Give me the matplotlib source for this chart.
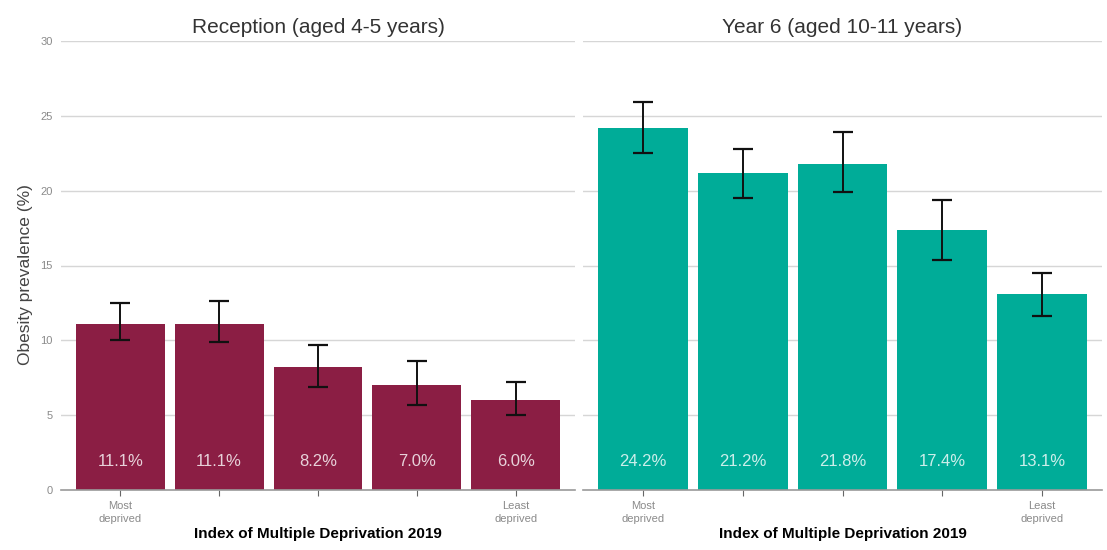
import matplotlib
matplotlib.use("Agg")
from matplotlib import pyplot as plt
import numpy as np

# data
groups = ["Reception (aged 4-5 years)", "Year 6 (aged 10-11 years)"]
quintiles = [1, 2, 3, 4, 5]
tick_labels = ["Most\ndeprived", "", "", "", "Least\ndeprived"]

reception = [11.1, 11.1, 8.2, 7.0, 6.0]
reception_lo = [10.0, 9.9, 6.9, 5.7, 5.0]
reception_hi = [12.5, 12.6, 9.7, 8.6, 7.2]

year6 = [24.2, 21.2, 21.8, 17.4, 13.1]
year6_lo = [22.5, 19.5, 19.9, 15.4, 11.6]
year6_hi = [25.9, 22.8, 23.9, 19.4, 14.5]

colours = ["#8B1E44", "#00AC98"]

plt.rcParams['font.family'] = ['Liberation Sans Narrow', 'Liberation Sans', 'DejaVu Sans']

fig = plt.figure(figsize=(11.07, 5.5), dpi=100)
W, H = 1107.0, 550.0
bottom = 1 - 490 / H
height = (490 - 41) / H
ax1 = fig.add_axes([61 / W, bottom, (575 - 61) / W, height])
ax2 = fig.add_axes([583 / W, bottom, (1102 - 583) / W, height])

panels = [
    (ax1, reception, reception_lo, reception_hi),
    (ax2, year6, year6_lo, year6_hi),
]

for k, (ax, vals, lo, hi) in enumerate(panels):
    x = np.arange(len(quintiles))
    vals = np.array(vals)
    err = [vals - np.array(lo), np.array(hi) - vals]

    for y in [5, 10, 15, 20, 25, 30]:
        ax.axhline(y, color="#D6D6D6", lw=1, zorder=0)

    ax.bar(x, vals, width=0.9, color=colours[k], zorder=2)
    ax.errorbar(x, vals, yerr=err, fmt="none", ecolor="#111111",
                elinewidth=1.4, capsize=7, capthick=1.6, zorder=3)

    for xi, v in zip(x, vals):
        ax.text(xi, 1.9, f"{v:.1f}%", ha="center", va="center",
                color="white", alpha=0.8, fontsize=12, zorder=4)

    ax.set_xlim(-0.6, 4.6)
    ax.set_ylim(0, 30)
    ax.set_yticks([0, 5, 10, 15, 20, 25, 30])
    ax.set_xticks(x)
    ax.set_xticklabels(tick_labels, fontsize=8, color="#8A8A8A", linespacing=1.4)
    ax.tick_params(axis="x", length=4, color="#666666", width=0.8, pad=4)
    ax.tick_params(axis="y", length=0, labelsize=8, labelcolor="#8A8A8A", pad=6)

    for side in ["top", "right", "left"]:
        ax.spines[side].set_visible(False)
    ax.spines["bottom"].set_color("#9A9A9A")
    ax.spines["bottom"].set_linewidth(1.2)

    ax.set_title(groups[k], fontsize=15, color="#333333", pad=6)
    ax.set_xlabel("Index of Multiple Deprivation 2019", fontsize=11,
                  fontweight="bold", color="black", labelpad=2)

ax2.set_yticklabels([])
ax1.set_ylabel("Obesity prevalence (%)", fontsize=12.5, color="#444444",
               family=["Liberation Sans", "DejaVu Sans"])
ax1.yaxis.set_label_coords(-0.054, 0.479)

fig.savefig("out.png", dpi=100)
